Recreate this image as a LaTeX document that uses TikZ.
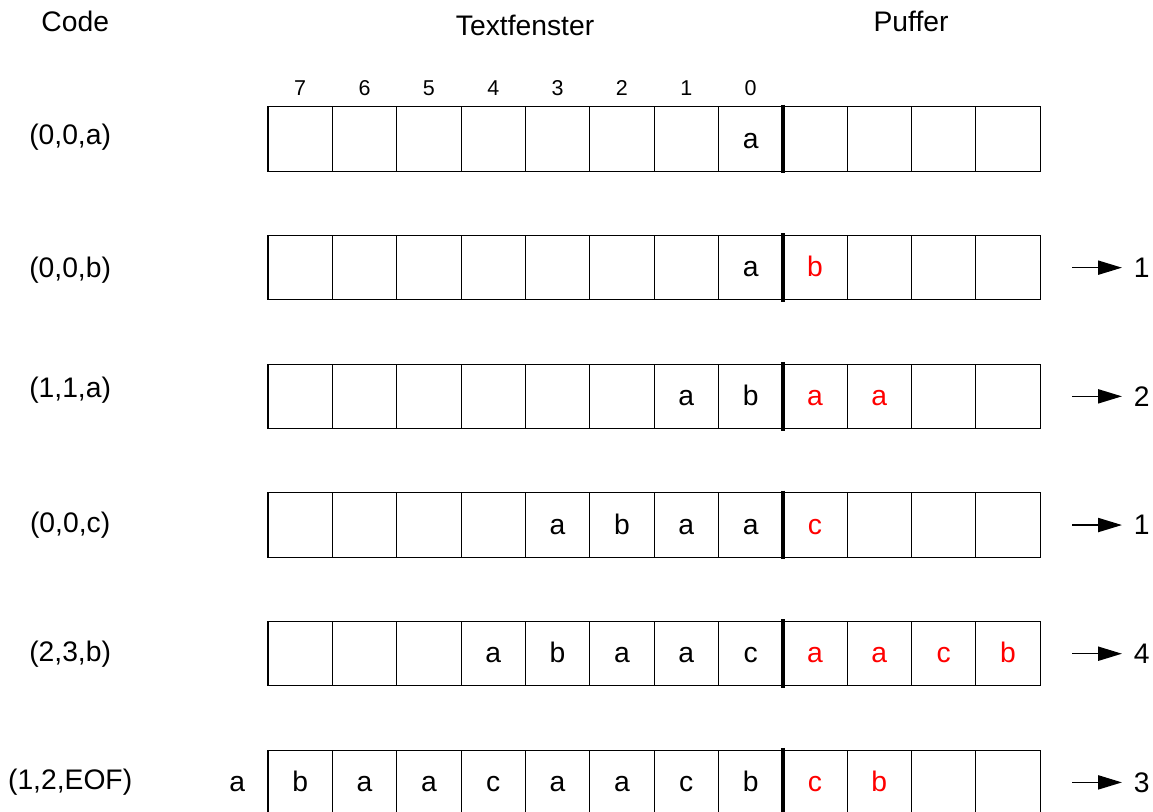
\documentclass[tikz,border=0pt]{standalone}
\usepackage{fontspec}
\setmainfont{Liberation Sans}
\usepackage{xcolor}
\usetikzlibrary{arrows.meta,positioning}
\definecolor{lzred}{HTML}{FF0000}

\begin{document}
\begin{tikzpicture}[
    cell/.style={rectangle, draw=black, line width=0.5pt, minimum size=1cm, inner sep=0pt, outer sep=0pt},
    txt/.style={font=\fontsize{12.5}{14}\selectfont, inner sep=0pt, text height=1.8ex, text depth=0.25ex},
    idx/.style={font=\fontsize{9.5}{11}\selectfont, inner sep=0pt},
    head/.style={font=\fontsize{12.5}{14}\selectfont},
    sep/.style={line width=1.6pt},
    arr/.style={-{Triangle[length=3.7mm, width=2.2mm]}, line width=0.6pt},
    num/.style={font=\fontsize{12.5}{14}\selectfont, inner sep=1.8mm}
]
    \useasboundingbox (0,0) rectangle (17.92,-12.61);

    % Headings
    \node[head] (code) at (1.17,-0.34) {Code};
    \node[head] (fenster) at (8.16,-0.39) {Textfenster};
    \node[head] (puffer) at (14.16,-0.34) {Puffer};

    % Cells
    \foreach \r in {1,...,6}
        \foreach \i in {1,...,12}
            \node[cell] (c\r-\i) at (3.666+\i, -0.16-2*\r) {};

    % Separator window | buffer
    \foreach \r in {1,...,6}
        \draw[sep] ([yshift=1pt]c\r-8.north east) -- ([yshift=-1pt]c\r-8.south east);

    % Positions
    \foreach \i [evaluate=\i as \n using int(8-\i)] in {1,...,8}
        \node[idx] at ([yshift=0.29cm]c1-\i.north) {\n};

    % Codes
    \foreach \r/\y/\lbl in {1/2.13/{(0,0,a)}, 2/4.20/{(0,0,b)}, 3/6.06/{(1,1,a)},
                            4/8.16/{(0,0,c)}, 5/10.17/{(2,3,b)}, 6/12.16/{(1,2,EOF)}}
        \node[head] (k\r) at (1.09,-\y) {\lbl};

    % Text window contents
    \foreach \r/\i/\ch in {1/8/a, 2/8/a, 3/7/a, 3/8/b,
                           4/5/a, 4/6/b, 4/7/a, 4/8/a,
                           5/4/a, 5/5/b, 5/6/a, 5/7/a, 5/8/c,
                           6/1/b, 6/2/a, 6/3/a, 6/4/c, 6/5/a, 6/6/a, 6/7/c, 6/8/b}
        \node[txt] at (c\r-\i) {\ch};

    % Buffer contents
    \foreach \r/\i/\ch in {2/9/b, 3/9/a, 3/10/a, 4/9/c,
                           5/9/a, 5/10/a, 5/11/c, 5/12/b, 6/9/c, 6/10/b}
        \node[txt, text=lzred] at (c\r-\i) {\ch};

    % Pushed out
    \node[txt] (out) at ([xshift=-0.48cm]c6-1.west) {a};

    % Shift lengths
    \foreach \r/\n in {2/1, 3/2, 4/1, 5/4, 6/3} {
        \coordinate (s\r) at ([xshift=5mm]c\r-12.east);
        \node[num] (n\r) at ([xshift=1.58cm]c\r-12.east) {\n};
        \draw[arr] (s\r) -- (n\r);
    }
\end{tikzpicture}
\end{document}
